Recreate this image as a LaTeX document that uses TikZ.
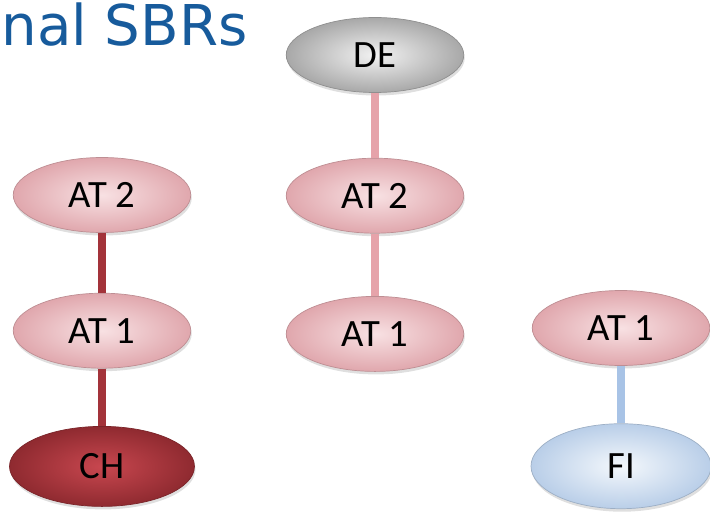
\documentclass[tikz,border=0pt]{standalone}
\usepackage{fontspec}
\usetikzlibrary{positioning,shapes.geometric,shadows}
\newfontfamily\labelfont{Carlito}
\newfontfamily\headfont{DejaVu Sans}
\definecolor{head}{HTML}{175B9C}
\definecolor{pinkin}{HTML}{F8E1E3}
\definecolor{pinkout}{HTML}{E0A7AD}
\definecolor{greyin}{HTML}{F2F2F2}
\definecolor{greyout}{HTML}{A8A8A8}
\definecolor{redin}{HTML}{C8474F}
\definecolor{redout}{HTML}{8F2A30}
\definecolor{bluein}{HTML}{F4F8FC}
\definecolor{blueout}{HTML}{B9CEE8}
\definecolor{lnpink}{HTML}{E6A3AA}
\definecolor{lnred}{HTML}{A3333A}
\definecolor{lnblue}{HTML}{A8C3E6}
\tikzset{
  cty/.style={ellipse,minimum width=3.55cm,minimum height=1.5cm,inner sep=0pt,
    draw=#1out!85!black,line width=0.4pt,shade,inner color=#1in,outer color=#1out,
    drop shadow={opacity=0.25,shadow xshift=0.02cm,shadow yshift=-0.06cm},
    font=\labelfont\fontsize{22}{25}\selectfont},
  cty/.default=pink,
  ln/.style={line width=0.15cm,draw=#1},
}
\begin{document}
\begin{tikzpicture}[node distance=1.25cm]
\clip (0,0) rectangle (14.2,10.5);
\node[anchor=base west,inner sep=0pt,text=head,font=\headfont\fontsize{32}{36}\selectfont] (ttl) at (0.02,9.58) {nal SBRs};
% middle column
\node[cty=grey] (de) at (7.5,9.4) {DE};
\node[cty,below=1.3cm of de] (mat2) {AT 2};
\node[cty,below=of mat2] (mat1) {AT 1};
% left column
\node[cty] (lat2) at (2.04,6.6) {AT 2};
\node[cty,below=1.2cm of lat2] (lat1) {AT 1};
\node[cty=red,below=1.15cm of lat1,minimum width=3.7cm,minimum height=1.6cm,text=black] (ch) {CH};
% right column
\node[cty] (rat1) at (12.42,3.94) {AT 1};
\node[cty=blue,below=1.15cm of rat1,minimum width=3.6cm,minimum height=1.7cm] (fi) {FI};
\draw[ln=lnpink](de)--(mat2); \draw[ln=lnpink](mat2)--(mat1);
\draw[ln=lnred](lat2)--(lat1); \draw[ln=lnred](lat1)--(ch);
\draw[ln=lnblue](rat1)--(fi);
\end{tikzpicture}
\end{document}
